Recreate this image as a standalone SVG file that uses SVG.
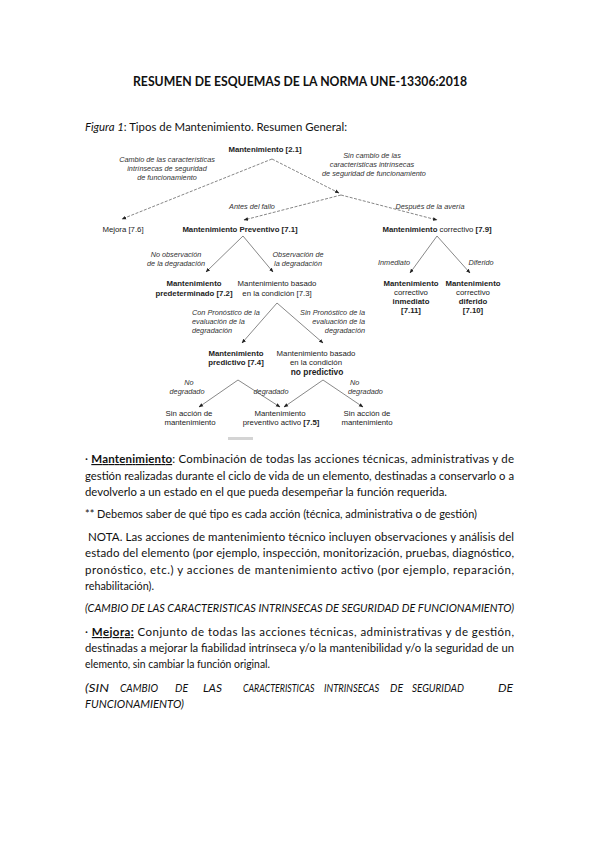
<svg xmlns="http://www.w3.org/2000/svg" width="599" height="848" viewBox="0 0 599 848">
<style>
.b{font-family:Lato,"Liberation Sans",sans-serif;font-size:11.5px;fill:#111}
.i{font-style:italic}
.d{font-family:"Liberation Sans",Arial,sans-serif;font-size:7.8px;fill:#222;text-anchor:middle}
.l{font-family:"Liberation Sans",Arial,sans-serif;font-size:7.3px;font-style:italic;fill:#333}
.bd{font-weight:bold}
.ln{stroke:#555;stroke-width:0.7;fill:none}
.ds{stroke:#666;stroke-width:0.8;fill:none;stroke-dasharray:3,1.5}
</style>
<defs>
<marker id="ah" viewBox="0 0 10 10" refX="9" refY="5" markerWidth="4.5" markerHeight="4.5" orient="auto" markerUnits="userSpaceOnUse"><path d="M0,1 L10,5 L0,9 z" fill="#222"/></marker>
</defs>
<rect width="599" height="848" fill="#fff"/>

<text x="300" y="86" class="b bd" style="font-size:12.5px" text-anchor="middle" textLength="334" lengthAdjust="spacingAndGlyphs">RESUMEN DE ESQUEMAS DE LA NORMA UNE-13306:2018</text>
<text x="85" y="131" class="b" textLength="262" lengthAdjust="spacingAndGlyphs"><tspan class="i">Figura 1</tspan>: Tipos de Mantenimiento. Resumen General:</text>

<g id="connectors">
<line class="ds" x1="272" y1="159" x2="122" y2="219" marker-end="url(#ah)"/>
<line class="ds" x1="272" y1="159" x2="339" y2="193" marker-end="url(#ah)"/>
<line class="ds" x1="341" y1="195" x2="244" y2="220" marker-end="url(#ah)"/>
<line class="ds" x1="341" y1="195" x2="437" y2="220" marker-end="url(#ah)"/>
<line class="ln" x1="243" y1="236" x2="206" y2="272" marker-end="url(#ah)"/>
<line class="ln" x1="243" y1="236" x2="273" y2="272" marker-end="url(#ah)"/>
<line class="ln" x1="437" y1="236" x2="410" y2="273" marker-end="url(#ah)"/>
<line class="ln" x1="437" y1="236" x2="470" y2="273" marker-end="url(#ah)"/>
<line class="ln" x1="277" y1="303" x2="242" y2="343" marker-end="url(#ah)"/>
<line class="ln" x1="277" y1="303" x2="323" y2="343" marker-end="url(#ah)"/>
<line class="ln" x1="238" y1="380" x2="199" y2="407" marker-end="url(#ah)"/>
<line class="ln" x1="238" y1="380" x2="280" y2="407" marker-end="url(#ah)"/>
<line class="ln" x1="323" y1="380" x2="284" y2="407" marker-end="url(#ah)"/>
<line class="ln" x1="323" y1="380" x2="363" y2="407" marker-end="url(#ah)"/>
</g>

<g id="edge-labels">
<text class="l" text-anchor="middle"><tspan x="167" y="162">Cambio de las características</tspan><tspan x="167" y="171">intrínsecas de seguridad</tspan><tspan x="167" y="180">de funcionamiento</tspan></text>
<text class="l" text-anchor="middle"><tspan x="372" y="158">Sin cambio de las</tspan><tspan x="372" y="167">características intrínsecas</tspan><tspan x="374" y="176">de seguridad de funcionamiento</tspan></text>
<text class="l" x="252" y="209" text-anchor="middle">Antes del fallo</text>
<text class="l" x="430" y="209" text-anchor="middle">Después de la avería</text>
<text class="l" text-anchor="middle"><tspan x="176" y="257">No observación</tspan><tspan x="176" y="266">de la degradación</tspan></text>
<text class="l" text-anchor="middle"><tspan x="298" y="257">Observación de</tspan><tspan x="298" y="266">la degradación</tspan></text>
<text class="l" x="394" y="265" text-anchor="middle">Inmediato</text>
<text class="l" x="481" y="265" text-anchor="middle">Diferido</text>
<text class="l"><tspan x="192" y="315">Con Pronóstico de la</tspan><tspan x="192" y="324">evaluación de la</tspan><tspan x="192" y="333">degradación</tspan></text>
<text class="l" text-anchor="end"><tspan x="365" y="315">Sin Pronóstico de la</tspan><tspan x="365" y="324">evaluación de la</tspan><tspan x="365" y="333">degradación</tspan></text>
<text class="l" text-anchor="middle"><tspan x="189" y="385">No</tspan><tspan x="187" y="394">degradado</tspan></text>
<text class="l" x="271" y="394" text-anchor="middle">degradado</text>
<text class="l"><tspan x="350" y="385">No</tspan><tspan x="348" y="394">degradado</tspan></text>
</g>

<g id="n-mantenimiento"><text class="d bd" x="265" y="152">Mantenimiento [2.1]</text></g>
<g id="n-mejora"><text class="d" x="123" y="232">Mejora [7.6]</text></g>
<g id="n-preventivo"><text class="d bd" x="240" y="232">Mantenimiento Preventivo [7.1]</text></g>
<g id="n-correctivo"><text class="d" x="437" y="232"><tspan class="bd">Mantenimiento</tspan> correctivo <tspan class="bd">[7.9]</tspan></text></g>
<g id="n-predeterminado"><text class="d bd"><tspan x="194" y="286">Mantenimiento</tspan><tspan x="194" y="296">predeterminado [7.2]</tspan></text></g>
<g id="n-condicion"><text class="d"><tspan x="277" y="286">Mantenimiento basado</tspan><tspan x="277" y="296">en la condición [7.3]</tspan></text></g>
<g id="n-corr-inmediato"><text class="d"><tspan x="411" y="286" class="bd">Mantenimiento</tspan><tspan x="411" y="295">correctivo</tspan><tspan x="411" y="304" class="bd">inmediato</tspan><tspan x="411" y="313" class="bd">[7.11]</tspan></text></g>
<g id="n-corr-diferido"><text class="d"><tspan x="473" y="286" class="bd">Mantenimiento</tspan><tspan x="473" y="295">correctivo</tspan><tspan x="473" y="304" class="bd">diferido</tspan><tspan x="473" y="313" class="bd">[7.10]</tspan></text></g>
<g id="n-predictivo"><text class="d bd"><tspan x="236" y="356">Mantenimiento</tspan><tspan x="236" y="365">predictivo [7.4]</tspan></text></g>
<g id="n-no-predictivo"><text class="d"><tspan x="316" y="356">Mantenimiento basado</tspan><tspan x="316" y="365">en la condición</tspan><tspan x="317" y="375" class="bd" style="font-size:8.4px">no predictivo</tspan></text></g>
<g id="n-sin-accion-1"><text class="d"><tspan x="189" y="416">Sin acción de</tspan><tspan x="190" y="425">mantenimiento</tspan></text></g>
<g id="n-activo"><text class="d"><tspan x="280" y="416">Mantenimiento</tspan><tspan x="281" y="425">preventivo activo <tspan class="bd">[7.5]</tspan></tspan></text></g>
<g id="n-sin-accion-2"><text class="d"><tspan x="367" y="416">Sin acción de</tspan><tspan x="367" y="425">mantenimiento</tspan></text></g>
<rect x="228" y="437" width="25" height="3" fill="#d4d4d4"/>

<g id="body">
<text class="b" x="85" y="463" textLength="429" lengthAdjust="spacing">· <tspan class="bd" text-decoration="underline">Mantenimiento</tspan>: Combinación de todas las acciones técnicas, administrativas y de</text>
<text class="b" x="85" y="480" textLength="429" lengthAdjust="spacingAndGlyphs">gestión realizadas durante el ciclo de vida de un elemento, destinadas a conservarlo o a</text>
<text class="b" x="85" y="496" textLength="362" lengthAdjust="spacingAndGlyphs">devolverlo a un estado en el que pueda desempeñar la función requerida.</text>
<text class="b" x="85" y="518" textLength="392" lengthAdjust="spacingAndGlyphs">** Debemos saber de qué tipo es cada acción (técnica, administrativa o de gestión)</text>
<text class="b" x="88" y="541" textLength="426" lengthAdjust="spacing">NOTA. Las acciones de mantenimiento técnico incluyen observaciones y análisis del</text>
<text class="b" x="85" y="557" textLength="429" lengthAdjust="spacing">estado del elemento (por ejemplo, inspección, monitorización, pruebas, diagnóstico,</text>
<text class="b" x="85" y="574" textLength="429" lengthAdjust="spacing">pronóstico, etc.) y acciones de mantenimiento activo (por ejemplo, reparación,</text>
<text class="b" x="85" y="590" textLength="69" lengthAdjust="spacingAndGlyphs">rehabilitación).</text>
<text class="b i" x="85" y="612" textLength="429" lengthAdjust="spacingAndGlyphs">(CAMBIO DE LAS CARACTERISTICAS INTRINSECAS DE SEGURIDAD DE FUNCIONAMIENTO)</text>
<text class="b" x="85" y="636" textLength="429" lengthAdjust="spacing">· <tspan class="bd" text-decoration="underline">Mejora:</tspan> Conjunto de todas las acciones técnicas, administrativas y de gestión,</text>
<text class="b" x="85" y="652" textLength="429" lengthAdjust="spacingAndGlyphs">destinadas a mejorar la fiabilidad intrínseca y/o la mantenibilidad y/o la seguridad de un</text>
<text class="b" x="85" y="668" textLength="185" lengthAdjust="spacingAndGlyphs">elemento, sin cambiar la función original.</text>
<text class="b i" x="85" y="692" textLength="24" lengthAdjust="spacingAndGlyphs">(SIN</text>
<text class="b i" x="120" y="692" textLength="38" lengthAdjust="spacingAndGlyphs">CAMBIO</text>
<text class="b i" x="175" y="692" textLength="13" lengthAdjust="spacingAndGlyphs">DE</text>
<text class="b i" x="203" y="692" textLength="19" lengthAdjust="spacingAndGlyphs">LAS</text>
<text class="b i" x="0" y="0" transform="translate(243,692) scale(0.77,1)">CARACTERISTICAS</text>
<text class="b i" x="0" y="0" transform="translate(324,692) scale(0.82,1)">INTRINSECAS</text>
<text class="b i" x="390" y="692" textLength="13" lengthAdjust="spacingAndGlyphs">DE</text>
<text class="b i" x="412" y="692" textLength="52" lengthAdjust="spacingAndGlyphs">SEGURIDAD</text>
<text class="b i" x="498" y="692" textLength="15" lengthAdjust="spacingAndGlyphs">DE</text>
<text class="b i" x="85" y="708" textLength="99" lengthAdjust="spacingAndGlyphs">FUNCIONAMIENTO)</text>
</g>
</svg>
